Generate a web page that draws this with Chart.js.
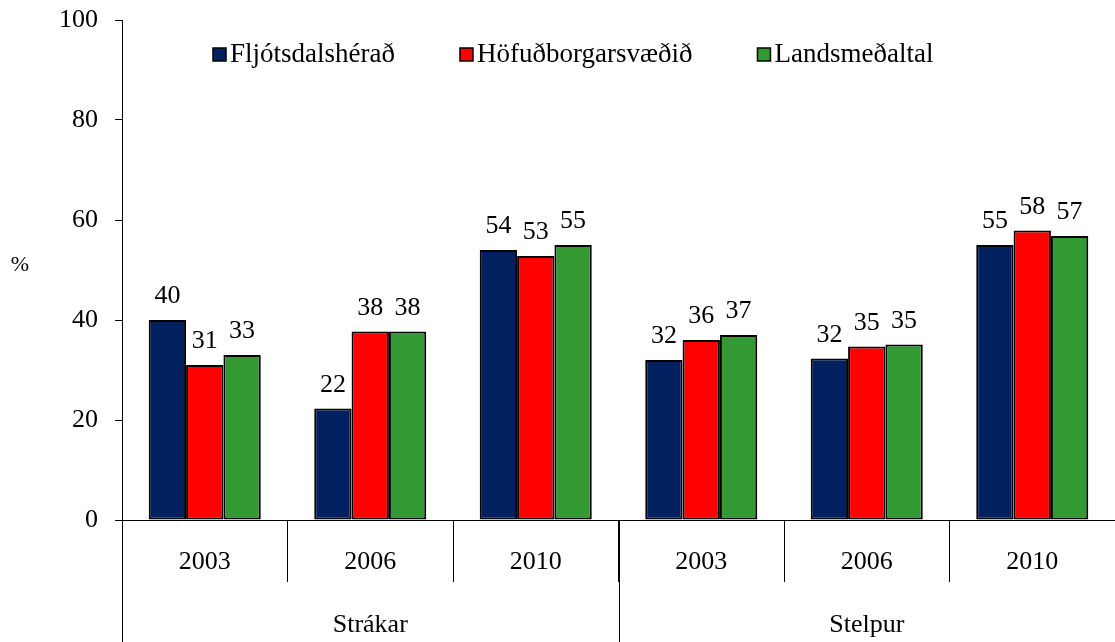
<!DOCTYPE html>
<html>
<head>
<meta charset="utf-8">
<script src="https://cdn.jsdelivr.net/npm/chart.js@4/dist/chart.umd.min.js"></script>
<style>
  html, body { margin: 0; padding: 0; background: #fff; }
  #wrap { width: 1115px; height: 642px; }
</style>
</head>
<body>
<div id="wrap"><canvas id="myChart"></canvas></div>
<script>
var years = ['2003', '2006', '2010', '2003', '2006', '2010'];
var groups = ['Strákar', 'Stelpur'];
var seriesNames = ['Fljótsdalshérað', 'Höfuðborgarsvæðið', 'Landsmeðaltal'];
var fljotsdalsherad = [40, 22.3, 54, 32, 32.3, 55];
var hofudborgarsvaedid = [31, 37.7, 52.8, 36, 34.7, 57.9];
var landsmedaltal = [33, 37.7, 55, 37, 35.1, 56.8];
var yTicks = [0, 20, 40, 60, 80, 100];
var colors = ['#002060', '#ff0000', '#339933'];

var FONT = '"Liberation Serif", "Times New Roman", serif';

// value labels above each bar
var valueLabels = {
    id: 'valueLabels',
    afterDatasetsDraw: function(chart) {
        var c = chart.ctx;
        c.save();
        c.font = '26px ' + FONT;
        c.fillStyle = '#000';
        c.textAlign = 'center';
        c.textBaseline = 'alphabetic';
        chart.data.datasets.forEach(function(ds, i) {
            chart.getDatasetMeta(i).data.forEach(function(bar, j) {
                c.fillText(Math.round(ds.data[j]), bar.x, bar.y - 17);
            });
        });
        c.restore();
    }
};

// legend inside the plot, two-level category labels, "%" title
var extras = {
    id: 'extras',
    afterDraw: function(chart) {
        var c = chart.ctx;
        var area = chart.chartArea;
        var xs = chart.scales.x;
        c.save();
        c.textBaseline = 'middle';

        // legend
        c.font = '27px ' + FONT;
        var x = area.left + 91;
        var y = area.top + 35;
        chart.data.datasets.forEach(function(ds, i) {
            c.fillStyle = ds.backgroundColor;
            c.fillRect(x, y - 7, 13, 13);
            c.strokeStyle = '#000';
            c.lineWidth = 1.5;
            c.strokeRect(x, y - 7, 13, 13);
            c.fillStyle = '#000';
            c.textAlign = 'left';
            c.fillText(ds.label, x + 17, y);
            x += 17 + c.measureText(ds.label).width + 65;
        });

        // year labels
        c.font = '26px ' + FONT;
        c.textAlign = 'center';
        years.forEach(function(lbl, i) {
            c.fillText(lbl, xs.getPixelForValue(i), area.bottom + 42);
        });

        // group labels and long separators
        var per = years.length / groups.length;
        var step = xs.getPixelForValue(1) - xs.getPixelForValue(0);
        c.strokeStyle = '#000';
        c.lineWidth = 1;
        groups.forEach(function(g, k) {
            var first = k * per, last = first + per - 1;
            var left = xs.getPixelForValue(first) - step / 2;
            var mid = (xs.getPixelForValue(first) + xs.getPixelForValue(last)) / 2;
            c.fillText(g, mid, area.bottom + 105);
            var lx = Math.round(left) + 0.5;
            c.beginPath();
            c.moveTo(lx, area.bottom);
            c.lineTo(lx, chart.height);
            c.stroke();
        });

        c.font = '22px ' + FONT;
        c.fillText('%', 20, chart.scales.y.getPixelForValue(51));
        c.restore();
    }
};

function draw() {
    var ctx = document.getElementById('myChart').getContext('2d');
    var graphData = {
        type: 'bar',
        data: {
            labels: years,
            datasets: [{
                label: seriesNames[0],
                data: fljotsdalsherad,
                backgroundColor: colors[0]
            }, {
                label: seriesNames[1],
                data: hofudborgarsvaedid,
                backgroundColor: colors[1]
            }, {
                label: seriesNames[2],
                data: landsmedaltal,
                backgroundColor: colors[2]
            }]
        },
        options: {
            responsive: true,
            maintainAspectRatio: false,
            animation: false,
            layout: { padding: { left: 59, top: 20, right: 0, bottom: 60 } },
            datasets: {
                bar: {
                    borderColor: '#000',
                    borderWidth: 2,
                    borderSkipped: false,
                    categoryPercentage: 0.677,
                    barPercentage: 1.0
                }
            },
            plugins: {
                legend: { display: false },
                tooltip: { enabled: false }
            },
            scales: {
                y: {
                    min: 0,
                    max: 100,
                    afterBuildTicks: function(axis) {
                        axis.ticks = yTicks.map(function(v) { return { value: v }; });
                    },
                    afterFit: function(axis) {
                        axis.width = 63;
                        axis.paddingTop = 0;
                        axis.paddingBottom = 0;
                    },
                    border: { display: true, color: '#000', width: 1 },
                    grid: { drawOnChartArea: false, tickLength: 7, color: '#000' },
                    ticks: { padding: 17, color: '#000', font: { family: FONT, size: 26 } }
                },
                x: {
                    offset: true,
                    border: { display: true, color: '#000', width: 1 },
                    grid: { offset: true, drawOnChartArea: false, tickLength: 62, color: '#000' },
                    ticks: { display: false }
                }
            }
        },
        plugins: [valueLabels, extras]
    };
    var myChart = new Chart(ctx, graphData);
}

if (document.fonts && document.fonts.load) {
    document.fonts.load('26px "Liberation Serif"', 'Fljótsdalshérað 0123456789').then(draw, draw);
} else {
    draw();
}
</script>
</body>
</html>
